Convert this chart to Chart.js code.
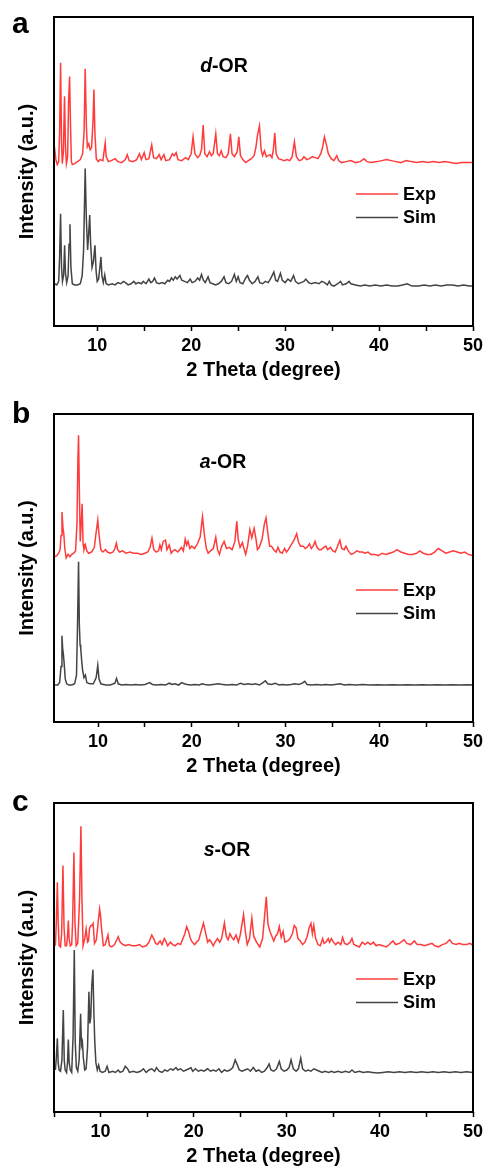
<!DOCTYPE html>
<html><head><meta charset="utf-8">
<script src="https://cdn.jsdelivr.net/npm/chart.js@4.4.1/dist/chart.umd.min.js"></script>
<style>
html,body{margin:0;padding:0;background:#fff;width:489px;height:1169px;overflow:hidden;}
.panel{position:absolute;left:0;width:489px;}
canvas{display:block;}
</style></head><body>
<div class="panel" style="top:0;height:390px"><canvas id="cA" width="489" height="390"></canvas></div>
<div class="panel" style="top:390px;height:390px"><canvas id="cB" width="489" height="390"></canvas></div>
<div class="panel" style="top:780px;height:389px"><canvas id="cC" width="489" height="389"></canvas></div>
<script>
// ---- data: [2theta, relative intensity] ----
const expA = [[5.45,15],[5.6,2],[5.75,-3],[5.9,0],[6.0,30],[6.1,100],[6.2,20],[6.28,-2],[6.4,10],[6.52,66],[6.62,15],[6.72,-2],[6.85,5],[6.95,60],[7.06,86],[7.15,40],[7.25,0],[7.35,-3],[7.6,-2],[7.9,0],[8.2,2],[8.45,8],[8.6,30],[8.72,94],[8.85,35],[8.95,15],[9.1,18],[9.25,12],[9.4,14],[9.55,40],[9.65,73],[9.75,30],[9.9,3],[10.1,0],[10.3,2],[10.6,1],[10.75,12],[10.85,19],[10.95,5],[11.2,0],[11.5,1],[11.9,3],[12.2,0],[12.6,-1],[13.0,2],[13.2,7],[13.4,1],[13.8,0],[14.2,2],[14.5,8],[14.7,2],[15.0,9],[15.2,2],[15.5,3],[15.8,17],[16.0,4],[16.3,3],[16.6,7],[16.8,2],[17.1,7],[17.3,1],[17.7,2],[18.0,8],[18.2,6],[18.4,9],[18.6,2],[19.0,1],[19.4,4],[19.7,2],[20.0,8],[20.2,25],[20.4,8],[20.7,4],[20.9,6],[21.1,12],[21.28,37],[21.45,8],[21.7,5],[21.95,10],[22.15,6],[22.35,8],[22.62,28],[22.8,8],[23.0,6],[23.2,11],[23.4,5],[23.7,4],[23.95,8],[24.18,28],[24.35,8],[24.6,5],[24.9,10],[25.07,25],[25.25,6],[25.5,2],[25.8,-1],[26.1,1],[26.4,3],[26.7,6],[26.9,15],[27.05,26],[27.27,36],[27.45,12],[27.6,6],[27.8,11],[28.0,5],[28.2,6],[28.4,7],[28.6,4],[28.75,12],[28.9,29],[29.05,8],[29.3,3],[29.6,2],[29.9,1],[30.2,2],[30.5,1],[30.75,5],[30.99,20],[31.2,5],[31.5,1],[31.8,2],[32.0,5],[32.3,2],[32.6,3],[32.9,5],[33.2,4],[33.5,3],[33.8,8],[34.0,15],[34.18,25],[34.4,17],[34.6,8],[34.9,3],[35.2,1],[35.5,6],[35.7,1],[36.0,-1],[36.5,0],[37.0,1],[37.5,-1],[38.0,0],[38.4,3],[38.7,0],[39.2,-1],[39.8,0],[40.3,1],[40.8,2],[41.3,1],[41.8,0],[42.3,-1],[42.9,1],[43.4,0],[44.0,-1],[44.6,0],[45.2,-1],[45.8,0],[46.4,-1],[47.0,0],[47.6,-1],[48.2,-2],[48.8,-1],[49.4,-1],[50,-1]];
const simA = [[5.45,1],[5.7,0],[5.9,3],[6.0,25],[6.1,61],[6.2,15],[6.3,3],[6.42,8],[6.53,34],[6.62,10],[6.75,2],[6.9,8],[7.0,35],[7.1,52],[7.2,15],[7.35,1],[7.6,0],[7.9,0],[8.2,1],[8.4,8],[8.55,30],[8.72,100],[8.85,55],[8.98,30],[9.1,45],[9.2,60],[9.3,35],[9.45,15],[9.6,20],[9.76,34],[9.88,12],[10.0,3],[10.15,5],[10.4,24],[10.5,8],[10.65,2],[10.8,8.5],[10.95,1],[11.2,0],[11.6,1],[11.9,0],[12.2,2],[12.5,1],[12.8,3],[13.0,2],[13.3,0],[13.6,1],[13.9,3],[14.1,1],[14.4,2],[14.7,1],[14.9,3],[15.2,1],[15.5,5],[15.7,2],[15.9,3],[16.1,6],[16.3,2],[16.6,1],[16.9,2],[17.2,1],[17.5,4],[17.7,3],[17.9,6],[18.1,4],[18.3,7],[18.5,5],[18.8,8],[19.0,4],[19.3,3],[19.6,2],[19.9,5],[20.1,2],[20.4,3],[20.7,6],[20.9,4],[21.1,9],[21.3,4],[21.5,2],[21.8,7],[22.0,2],[22.3,1],[22.6,0],[22.9,1],[23.2,3],[23.5,7],[23.7,2],[24.0,1],[24.3,3],[24.6,9],[24.8,3],[25.0,7],[25.2,2],[25.5,1],[25.8,6],[26.0,8],[26.2,4],[26.5,1],[26.8,3],[27.1,7],[27.3,2],[27.6,1],[27.9,3],[28.2,2],[28.5,6],[28.8,11],[29.0,4],[29.2,3],[29.5,10],[29.7,4],[30.0,2],[30.3,5],[30.6,3],[30.9,8],[31.1,3],[31.4,1],[31.7,2],[32.0,3],[32.2,5],[32.5,2],[32.8,1],[33.2,2],[33.6,1],[33.9,3],[34.2,2],[34.5,0],[34.7,3],[34.9,0],[35.2,-1],[35.6,1],[35.9,3],[36.1,0],[36.5,1],[36.8,3],[37.0,1],[37.5,0],[38.0,-1],[38.5,0],[39.0,-1],[39.6,0],[40.2,-1],[40.8,0],[41.4,-1],[42.0,-1],[42.5,0],[43.0,1],[43.5,-1],[44.2,-1],[44.8,0],[45.4,-1],[46.0,0],[46.6,-1],[47.2,0],[47.8,0],[48.4,-1],[49.0,0],[49.6,-1],[50,-1]];
const expB = [[5.35,-3],[5.6,-2],[5.8,0],[5.95,3],[6.05,15],[6.15,35],[6.25,22],[6.35,16],[6.45,4],[6.6,-4],[6.8,-1],[7.0,-3],[7.2,-1],[7.4,0],[7.6,2],[7.75,25],[7.85,80],[7.92,100],[8.0,55],[8.1,10],[8.2,25],[8.3,42],[8.4,8],[8.5,3],[8.65,7],[8.8,2],[9.0,0],[9.3,1],[9.6,5],[9.8,18],[9.97,28],[10.1,16],[10.3,3],[10.5,1],[10.8,3],[11.0,1],[11.3,0],[11.6,1],[11.8,4],[11.95,8.5],[12.1,3],[12.3,1],[12.6,2],[13.0,0],[13.4,1],[13.8,0],[14.2,0],[14.6,-1],[15.0,0],[15.3,1],[15.55,5],[15.75,12.7],[15.95,3],[16.2,1],[16.45,2],[16.6,7],[16.75,3],[16.95,10],[17.2,11],[17.35,3],[17.6,7],[17.8,0],[18.0,2],[18.2,3],[18.5,1],[18.7,3],[18.9,5],[19.1,2],[19.3,12],[19.45,7],[19.6,10],[19.8,4],[20.0,6],[20.3,4],[20.6,8],[20.9,14],[21.14,31],[21.35,15],[21.55,4],[21.75,0],[22.0,2],[22.3,4],[22.56,13.6],[22.75,3],[22.95,-1],[23.2,6],[23.45,10],[23.7,4],[24.0,5],[24.3,3],[24.6,10],[24.8,27],[24.95,12],[25.15,5],[25.4,9],[25.6,3],[25.75,-1],[25.95,6],[26.2,20],[26.4,13],[26.65,21],[26.85,12],[27.0,3],[27.2,5],[27.5,12],[27.75,25],[27.92,30],[28.1,18],[28.3,6],[28.5,6],[28.75,3],[29.0,1],[29.2,5],[29.4,1],[29.65,0],[29.9,4],[30.1,1],[30.3,3],[30.6,7],[30.9,11],[31.19,16.5],[31.4,9],[31.6,6],[31.9,6],[32.1,4],[32.3,5],[32.55,8],[32.75,4],[32.95,6],[33.15,10],[33.35,5],[33.6,3],[33.8,3],[34.1,5],[34.3,6],[34.5,3],[34.8,5],[35.05,2],[35.3,1],[35.6,7],[35.8,11],[36.0,4],[36.25,3],[36.45,6],[36.7,2],[37.0,-1],[37.3,0],[37.6,2],[37.9,1],[38.2,1],[38.5,0],[38.8,1],[39.1,-1],[39.5,-1],[39.9,-2],[40.3,0],[40.7,-1],[41.1,0],[41.5,1],[41.9,3],[42.3,1],[42.7,0],[43.1,-1],[43.5,-1],[44.0,0],[44.3,2],[44.7,0],[45.1,-1],[45.5,-1],[45.9,1],[46.3,4],[46.7,2],[47.1,0],[47.5,1],[47.9,2],[48.3,1],[48.7,0],[49.1,1],[49.5,-1],[50,-2]];
const simB = [[5.35,0],[5.7,0],[5.9,2],[6.05,15],[6.15,40],[6.22,30],[6.3,25],[6.38,18],[6.5,5],[6.65,1],[6.9,0],[7.2,0],[7.5,1],[7.7,8],[7.8,45],[7.92,100],[8.0,50],[8.08,33],[8.15,30],[8.25,20],[8.35,12],[8.5,6],[8.65,8],[8.8,2],[9.1,1],[9.5,1],[9.8,6],[9.97,16],[10.1,5],[10.3,1],[10.8,0],[11.3,0],[11.8,1.5],[11.97,5.4],[12.15,1],[12.5,0],[13.0,0.5],[13.5,0],[14.0,0.5],[14.5,0],[15.0,0.5],[15.5,2],[15.8,0.5],[16.2,0],[16.7,0.5],[17.2,0],[17.6,1.5],[17.9,0.5],[18.2,1],[18.6,0],[18.9,2],[19.2,1],[19.5,0.5],[19.9,0],[20.3,0.5],[20.8,0],[21.1,1],[21.4,0.5],[21.8,0],[22.3,0.5],[22.8,1],[23.3,0.5],[23.8,0],[24.3,0.5],[24.8,0],[25.2,1.5],[25.6,0.5],[26.0,1],[26.4,0.5],[26.8,1],[27.2,0],[27.6,2],[27.85,3.5],[28.1,1],[28.5,0.5],[28.9,1.5],[29.3,0],[29.7,0.5],[30.1,0],[30.6,0.5],[31.0,1],[31.4,0.5],[31.8,1.5],[32.05,3],[32.3,0.5],[32.8,0],[33.3,0.5],[33.8,0],[34.3,0.5],[34.8,0],[35.3,0.5],[35.8,1],[36.3,0],[36.8,0.5],[37.5,0],[38.2,0.5],[39.0,0],[39.8,0.3],[40.6,0],[41.4,0.3],[42.2,0],[43.0,0.3],[43.8,0],[44.6,0.3],[45.4,0],[46.2,0.3],[47.0,0],[47.8,0.3],[48.6,0],[49.4,0.3],[50,0]];
const expC = [[5.15,0],[5.25,20],[5.36,53],[5.45,20],[5.55,0],[5.7,-1],[5.82,10],[5.96,67],[6.08,15],[6.2,0],[6.35,0],[6.45,8],[6.54,21],[6.63,5],[6.75,0],[6.9,1],[7.0,20],[7.14,78],[7.25,20],[7.38,0],[7.55,2],[7.75,40],[7.89,100],[8.0,40],[8.12,0],[8.3,6],[8.45,14],[8.6,3],[8.7,4],[8.82,14.5],[8.95,17],[9.1,17],[9.2,18.6],[9.35,2],[9.55,5],[9.75,20],[9.9,30.6],[10.0,25],[10.1,15],[10.3,0],[10.5,1],[10.8,9],[10.95,0],[11.2,-1],[11.5,1],[11.75,5],[11.9,7.5],[12.1,3],[12.4,1],[12.7,0],[13.0,1],[13.4,0],[13.8,0],[14.2,1],[14.5,-1],[14.9,0],[15.2,3],[15.5,9],[15.7,6],[15.9,2],[16.1,1],[16.4,4],[16.6,1],[16.85,6],[17.0,4],[17.2,0],[17.5,3],[17.75,1],[18.0,0],[18.3,2],[18.6,1],[18.85,6],[19.05,10],[19.25,16],[19.45,12],[19.65,6],[19.85,3],[20.1,1],[20.3,3],[20.55,5],[20.8,12],[21.05,19],[21.25,12],[21.5,3],[21.7,5],[21.9,3],[22.1,0],[22.3,3],[22.55,6],[22.8,3],[23.0,6],[23.3,19],[23.5,8],[23.7,5],[23.9,10],[24.1,7],[24.3,5],[24.55,9],[24.8,3],[25.0,9],[25.36,26],[25.55,12],[25.75,1],[26.0,6],[26.25,23],[26.45,8],[26.75,3],[27.1,-1],[27.4,6],[27.62,25],[27.8,41],[27.98,18],[28.2,12],[28.4,8],[28.6,4],[28.8,8],[29.0,10],[29.2,16],[29.4,7],[29.6,12],[29.8,3],[30.1,4],[30.35,6],[30.6,10],[30.8,17],[31.0,15],[31.2,6],[31.45,4],[31.7,1],[31.95,3],[32.2,8],[32.4,15],[32.6,18.7],[32.75,10],[32.9,17],[33.1,6],[33.35,1],[33.6,0],[33.85,6],[34.0,2],[34.2,3],[34.45,6],[34.6,3],[34.8,6],[35.0,3],[35.25,1],[35.5,3],[35.8,1],[36.0,7],[36.2,2],[36.5,1],[36.8,3],[37.0,6],[37.2,1],[37.5,0],[37.8,-1],[38.1,3],[38.4,1],[38.7,3],[39.0,1],[39.3,3],[39.6,0],[39.9,1],[40.3,0],[40.7,-1],[41.0,1],[41.4,4],[41.7,1],[42.1,2],[42.6,5],[42.9,2],[43.3,1],[43.7,4],[44.0,1],[44.4,1],[44.8,0],[45.2,1],[45.6,2],[45.9,0],[46.3,-1],[46.7,1],[47.1,2],[47.5,5],[47.8,2],[48.2,1],[48.5,2],[48.9,1],[49.3,1],[49.7,2],[50,0]];
const simC = [[5.15,2],[5.25,12],[5.36,28],[5.45,8],[5.55,2],[5.7,1],[5.85,10],[6.0,51],[6.1,10],[6.2,2],[6.35,0],[6.45,8],[6.54,27],[6.63,8],[6.75,2],[6.9,0],[7.05,30],[7.18,100],[7.28,25],[7.4,4],[7.55,1],[7.7,10],[7.86,48],[7.95,22],[8.05,25],[8.15,12],[8.3,2],[8.45,3],[8.6,20],[8.75,66],[8.85,40],[8.95,45],[9.05,70],[9.18,84],[9.28,50],[9.38,25],[9.5,8],[9.65,2],[9.8,6],[9.95,1],[10.2,0],[10.5,1],[10.7,5],[10.9,0],[11.3,1],[11.6,0],[11.9,2],[12.1,0],[12.4,1],[12.65,5],[12.9,3],[13.1,0],[13.5,1],[13.9,0],[14.3,1],[14.6,3],[14.9,0],[15.2,2],[15.5,3],[15.8,1],[16.0,4],[16.3,1],[16.6,0],[16.9,2],[17.2,1],[17.5,3],[17.8,2],[18.1,4],[18.3,2],[18.6,3],[18.9,1],[19.2,2],[19.5,3],[19.7,4],[19.9,1],[20.2,3],[20.5,1],[20.8,2],[21.1,1],[21.5,3],[21.8,1],[22.1,2],[22.4,1],[22.7,3],[23.0,0],[23.3,2],[23.6,1],[23.9,2],[24.2,4],[24.46,10.3],[24.7,6],[24.9,2],[25.2,1],[25.5,2],[25.8,3],[26.1,1],[26.4,4],[26.7,1],[27.0,2],[27.3,0],[27.6,1],[27.9,4],[28.1,7],[28.3,2],[28.6,1],[28.9,3],[29.2,9],[29.4,3],[29.7,1],[30.0,2],[30.25,4],[30.46,10.3],[30.7,3],[31.0,1],[31.25,3],[31.5,11.7],[31.7,3],[32.0,1],[32.3,2],[32.6,1],[32.9,3],[33.2,2],[33.5,1],[33.8,0],[34.1,1],[34.5,0],[34.8,1],[35.1,0],[35.5,1],[35.9,0],[36.3,1],[36.7,0],[37.0,2],[37.3,0],[37.8,1],[38.2,0],[38.7,0.5],[39.2,0],[39.8,-0.5],[40.3,0],[40.9,0.5],[41.5,0],[42.1,0.5],[42.7,0],[43.3,0.5],[43.9,0],[44.5,0.5],[45.1,0],[45.7,0.5],[46.3,0],[46.9,0.5],[47.5,0],[48.1,0.5],[48.7,0],[49.3,0.5],[50,0]];
const seriesNames = ['Exp','Sim'];
const sampleNames = [['d','-OR'],['a','-OR'],['s','-OR']];
const panelLetters = ['a','b','c'];
const xTitle = '2 Theta (degree)';
const yTitle = 'Intensity (a.u.)';
const xMax = 50;

// ---- presentation ----
const FONT = "'Liberation Sans', Arial, sans-serif";
const RED = '#ff3b3b', GRAY = '#444444';

const panels = [
  {id:'cA', h:390, exp:expA, sim:simA, xmin:5.4, top:17, bottom:326, expOff:53.2, expK:0.32, simOff:13.3, simK:0.377, titlePad:8, sampleX:224, sampleY:72, letterY:33, legendY:194},
  {id:'cB', h:390, exp:expB, sim:simB, xmin:5.3, top:24, bottom:332, expOff:54.8, expK:0.383, simOff:12.0, simK:0.40, titlePad:1.5, sampleX:223, sampleY:78, letterY:33, legendY:200},
  {id:'cC', h:389, exp:expC, sim:simC, xmin:5.0, top:23, bottom:332, expOff:53.8, expK:0.387, simOff:12.8, simK:0.396, titlePad:0.5, sampleX:227, sampleY:76, letterY:31, legendY:199}
];

const decor = {
  id:'decor',
  afterDraw(chart, args, o) {
    const {ctx, chartArea:a} = chart;
    ctx.save();
    ctx.strokeStyle = '#000'; ctx.lineWidth = 2;
    ctx.strokeRect(a.left, a.top, a.right - a.left, a.bottom - a.top);
    ctx.fillStyle = '#000'; ctx.textAlign = 'left'; ctx.textBaseline = 'alphabetic';
    ctx.font = `bold 30px ${FONT}`;
    ctx.fillText(o.letter, 12, o.letterY);
    const fi = `italic bold 19.5px ${FONT}`, fb = `bold 19.5px ${FONT}`;
    ctx.font = fi; const w1 = ctx.measureText(o.sample[0]).width;
    ctx.font = fb; const w2 = ctx.measureText(o.sample[1]).width;
    const x0 = o.sampleX - (w1 + w2) / 2;
    ctx.font = fi; ctx.fillText(o.sample[0], x0, o.sampleY);
    ctx.font = fb; ctx.fillText(o.sample[1], x0 + w1, o.sampleY);
    chart.data.datasets.forEach((ds, i) => {
      const y = o.legendY + i * 23.5;
      ctx.strokeStyle = ds.borderColor; ctx.lineWidth = 1.5;
      ctx.beginPath(); ctx.moveTo(356, y); ctx.lineTo(398, y); ctx.stroke();
      ctx.font = `bold 18px ${FONT}`; ctx.textBaseline = 'middle'; ctx.fillStyle = '#000';
      ctx.fillText(ds.label, 403, y + 1);
    });
    ctx.restore();
  }
};

panels.forEach((p, idx) => {
  const ds = (arr, off, k) => arr.map(([x, v]) => ({x, y: off + k * v}));
  new Chart(document.getElementById(p.id), {
    type: 'line',
    data: { datasets: [
      {label: seriesNames[0], data: ds(p.exp, p.expOff, p.expK), borderColor: RED, borderWidth: 1.5, pointRadius: 0, tension: 0},
      {label: seriesNames[1], data: ds(p.sim, p.simOff, p.simK), borderColor: GRAY, borderWidth: 1.5, pointRadius: 0, tension: 0}
    ]},
    plugins: [decor],
    options: {
      responsive: false, animation: false, devicePixelRatio: 1,
      layout: {padding: {left: 0, right: 16, top: p.top, bottom: 0}},
      plugins: {legend: {display: false}, tooltip: {enabled: false},
        decor: {letter: panelLetters[idx], sample: sampleNames[idx], sampleX: p.sampleX, sampleY: p.sampleY, letterY: p.letterY, legendY: p.legendY}},
      scales: {
        x: {type: 'linear', min: p.xmin, max: xMax,
          afterFit(s) { s.height = p.h - p.bottom; },
          border: {display: false},
          grid: {drawOnChartArea: false, drawTicks: true, tickLength: 5, tickColor: '#000', tickWidth: 1.5},
          ticks: {stepSize: 5, includeBounds: false, autoSkip: false, maxRotation: 0, minRotation: 0, padding: 4, color: '#000',
            font: {family: FONT, size: 18, weight: 'bold'}, callback: v => (v % 10 === 0 ? String(v) : '')},
          title: {display: true, text: xTitle, color: '#000', font: {family: FONT, size: 20, weight: 'bold'}, padding: {top: 0, bottom: p.titlePad}}
        },
        y: {min: 0, max: 100,
          afterFit(s) { s.width = 54; },
          border: {display: false}, grid: {display: false}, ticks: {display: false},
          title: {display: true, text: yTitle, color: '#000', font: {family: FONT, size: 20, weight: 'bold'}, padding: {top: 15, bottom: 0}}
        }
      }
    }
  });
});
</script>
</body></html>
